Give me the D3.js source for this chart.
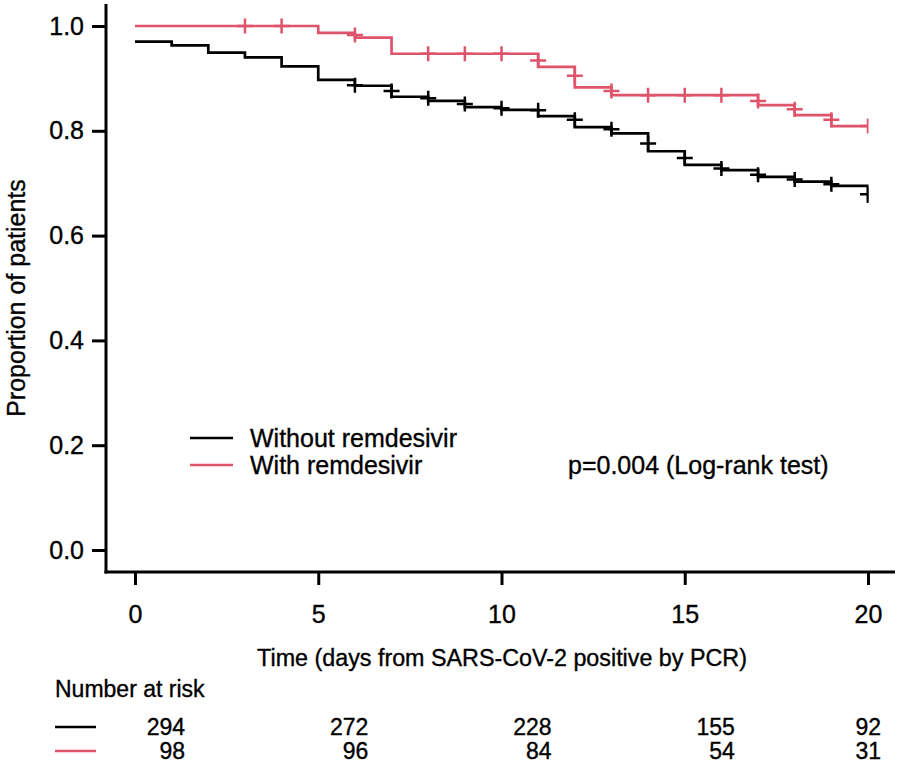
<!DOCTYPE html>
<html>
<head>
<meta charset="utf-8">
<script src="https://cdn.jsdelivr.net/npm/d3@7"></script>
<style>
  html, body { margin: 0; padding: 0; background: #fff; }
  svg { display: block; }
  text { font-family: "Liberation Sans", Arial, Helvetica, sans-serif; fill: #000; stroke: #000; stroke-width: 0.35px; }
</style>
</head>
<body>
<svg id="chart" width="904" height="764"></svg>
<script>
// ---------------- data ----------------
const stepTimes = [0,1,2,3,4,5,6,7,8,9,10,11,12,13,14,15,16,17,18,19,20];
const withoutValues = [0.970,0.963,0.949,0.940,0.923,0.897,0.886,0.865,0.857,0.845,0.840,0.828,0.807,0.795,0.761,0.735,0.725,0.712,0.703,0.695,0.662];
const withValues    = [1.000,1.000,1.000,1.000,1.000,0.987,0.978,0.947,0.947,0.947,0.947,0.922,0.883,0.868,0.868,0.868,0.868,0.849,0.830,0.809,0.809];

const withoutCensorTimes  = [6,7,8,9,10,11,12,13,14,15,16,17,18,19,20];
const withoutCensorValues = [0.887,0.876,0.862,0.851,0.843,0.839,0.821,0.803,0.776,0.748,0.728,0.716,0.707,0.698,0.679];
const withCensorTimes  = [3,4,6,8,9,10,11,12,13,14,15,16,17,18,19,20];
const withCensorValues = [1.000,1.000,0.983,0.947,0.947,0.947,0.934,0.905,0.876,0.868,0.868,0.868,0.857,0.841,0.821,0.809];

const xTicks = [0,5,10,15,20];
const yTicks = [0,0.2,0.4,0.6,0.8,1.0];
const riskTimes = [0,5,10,15,20];
const riskWithout = [294,272,228,155,92];
const riskWith = [98,96,84,54,31];

const seriesNames = ["Without remdesivir","With remdesivir"];
const seriesColors = ["#000000","#DF536B"];
const pText = "p=0.004 (Log-rank test)";
const xTitle = "Time (days from SARS-CoV-2 positive by PCR)";
const yTitle = "Proportion of patients";
const riskTitle = "Number at risk";

// ---------------- layout ----------------
const svg = d3.select("#chart");
const x = d3.scaleLinear().domain([0,20]).range([135,868]);
const y = d3.scaleLinear().domain([0,1]).range([550,26]);
const axisX = 106, axisY = 572;

// clip
svg.append("defs").append("clipPath").attr("id","plotclip")
  .append("rect").attr("x",axisX).attr("y",0).attr("width",x(20)-axisX+0.5).attr("height",axisY);

// y axis
const yAxis = d3.axisLeft(y).tickValues(yTicks).tickFormat(d3.format(".1f")).tickSize(14).tickPadding(8).tickSizeOuter(0);
const gy = svg.append("g").attr("transform",`translate(${axisX},0)`).call(yAxis);
gy.select(".domain").remove();
gy.selectAll(".tick line").attr("stroke","#000").attr("stroke-width",3);
gy.selectAll(".tick text").style("font-size","25px").attr("font-family",null);
svg.append("line").attr("x1",axisX).attr("x2",axisX).attr("y1",4).attr("y2",axisY+1.5)
  .attr("stroke","#000").attr("stroke-width",3);

// x axis
const xAxis = d3.axisBottom(x).tickValues(xTicks).tickFormat(d3.format("d")).tickSize(13).tickPadding(20).tickSizeOuter(0);
const gx = svg.append("g").attr("transform",`translate(0,${axisY})`).call(xAxis);
gx.select(".domain").remove();
gx.selectAll(".tick line").attr("stroke","#000").attr("stroke-width",3);
gx.selectAll(".tick text").style("font-size","25px").attr("font-family",null);
svg.append("line").attr("x1",axisX-1.5).attr("x2",895).attr("y1",axisY).attr("y2",axisY)
  .attr("stroke","#000").attr("stroke-width",3);

// titles
svg.append("text").attr("x",502).attr("y",666).attr("text-anchor","middle").style("font-size","23.3px").text(xTitle);
svg.append("text").attr("transform",`translate(25,298) rotate(-90)`).attr("text-anchor","middle").style("font-size","25px").text(yTitle);

// curves
const plot = svg.append("g").attr("clip-path","url(#plotclip)");
const line = d3.line().x(d=>x(d[0])).y(d=>y(d[1])).curve(d3.curveStepAfter);
const series = [
  {vals: withoutValues, ct: withoutCensorTimes, cv: withoutCensorValues, color: seriesColors[0]},
  {vals: withValues, ct: withCensorTimes, cv: withCensorValues, color: seriesColors[1]}
];
series.forEach(s => {
  const pts = stepTimes.map((t,i)=>[t,s.vals[i]]);
  plot.append("path").attr("d",line(pts)).attr("fill","none").attr("stroke",s.color).attr("stroke-width",2.7);
  const cens = s.ct.map((t,i)=>[t,s.cv[i]]);
  const g = plot.append("g");
  g.selectAll("path.c").data(cens).join("path")
    .attr("d",d=>{const cx=x(d[0]), cy=y(d[1]); return `M${cx-8},${cy}H${cx+8}M${cx},${cy-7.5}V${cy+7.5}`;})
    .attr("stroke",s.color).attr("stroke-width",2.5).attr("fill","none");
});

// legend
const legY = [438,465];
seriesNames.forEach((n,i)=>{
  svg.append("line").attr("x1",190).attr("x2",233).attr("y1",legY[i]).attr("y2",legY[i])
    .attr("stroke",seriesColors[i]).attr("stroke-width",2.7);
  svg.append("text").attr("x",250).attr("y",legY[i]+9).style("font-size","25px").text(n);
});
svg.append("text").attr("x",568).attr("y",legY[1]+9).style("font-size","25px").text(pText);

// risk table
svg.append("text").attr("x",55).attr("y",697).style("font-size","23px").text(riskTitle);
const rowY = [727,751];
[riskWithout, riskWith].forEach((row,ri)=>{
  svg.append("line").attr("x1",55).attr("x2",96).attr("y1",rowY[ri]).attr("y2",rowY[ri])
    .attr("stroke",seriesColors[ri]).attr("stroke-width",2.7);
  svg.selectAll(null).data(riskTimes).join("text")
    .attr("x",(t)=>Math.min(x(t)+50,881))
    .attr("y",rowY[ri]+8)
    .attr("text-anchor","end")
    .style("font-size","23px")
    .text((t,i)=>row[i]);
});
</script>
</body>
</html>
